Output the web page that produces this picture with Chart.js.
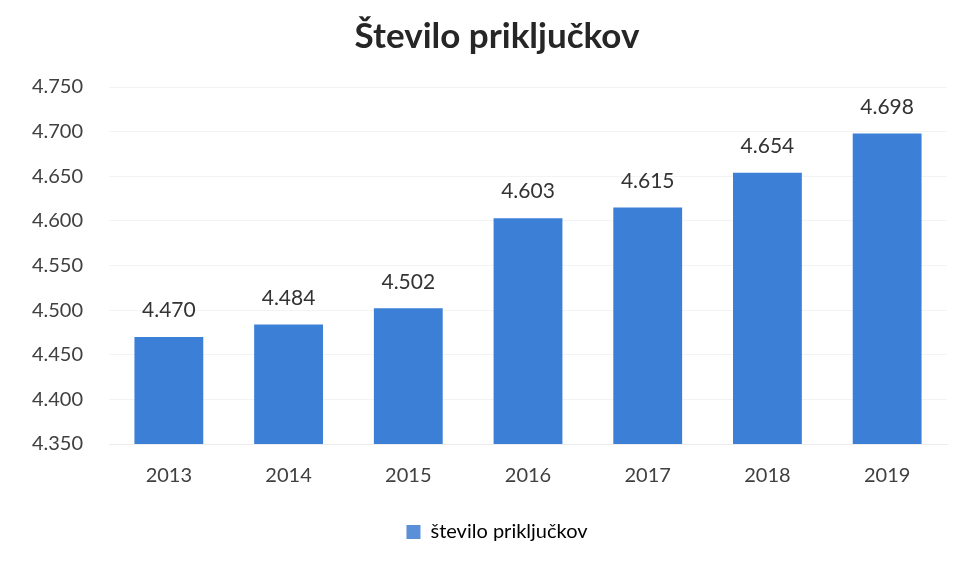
<!DOCTYPE html>
<html>
<head>
<meta charset="utf-8">
<script src="https://cdn.jsdelivr.net/npm/chart.js@4.4.1/dist/chart.umd.min.js"></script>
<style>
    html, body { margin: 0; padding: 0; background: #fff; }
    #wrap { width: 965px; height: 562px; }
</style>
</head>
<body>
<div id="wrap"><canvas id="priklChart"></canvas></div>
<script>
const years = ['2013', '2014', '2015', '2016', '2017', '2018', '2019'];
const prikljucki = [4470, 4484, 4502, 4603, 4615, 4654, 4698];
const yMin = 4350;
const yMax = 4750;
const yStep = 50;

const FONT = 'Lato, "Open Sans", sans-serif';

// 4470 -> "4.470"
function fmt(v) {
    return String(Math.round(v)).replace(/\B(?=(\d{3})+(?!\d))/g, '.');
}

const valueLabels = {
    id: 'valueLabels',
    afterDatasetsDraw(chart) {
        const ctx = chart.ctx;
        const meta = chart.getDatasetMeta(0);
        ctx.save();
        ctx.font = '21px ' + FONT;
        ctx.fillStyle = '#333333';
        ctx.textAlign = 'center';
        ctx.textBaseline = 'bottom';
        meta.data.forEach((bar, i) => {
            ctx.fillText(fmt(chart.data.datasets[0].data[i]), bar.x, bar.y - 16);
        });
        ctx.restore();
    }
};

new Chart('priklChart', {
    type: 'bar',
    data: {
        labels: years,
        datasets: [{
            label: 'število priključkov',
            data: prikljucki,
            backgroundColor: '#3b7fd6',
            borderWidth: 0,
            categoryPercentage: 0.575,
            barPercentage: 1.0
        }]
    },
    plugins: [valueLabels],
    options: {
        responsive: true,
        maintainAspectRatio: false,
        animation: false,
        layout: { padding: { left: 30, right: 1, top: 10, bottom: 10 } },
        plugins: {
            title: {
                display: true,
                text: 'Število priključkov',
                color: '#262626',
                font: { family: FONT, size: 35, weight: 'bold' },
                padding: { top: 6, bottom: 29 }
            },
            legend: {
                position: 'bottom',
                labels: {
                    color: '#404040',
                    font: { family: FONT, size: 20 },
                    boxWidth: 14,
                    boxHeight: 14,
                    padding: 22,
                    generateLabels() {
                        return [{
                            text: 'število priključkov',
                            fillStyle: '#5b8fd8',
                            strokeStyle: '#5b8fd8',
                            lineWidth: 0,
                            datasetIndex: 0
                        }];
                    }
                }
            },
            tooltip: { enabled: false }
        },
        scales: {
            x: {
                grid: { display: false },
                border: { display: true, color: '#ececec' },
                ticks: {
                    color: '#404040',
                    font: { family: FONT, size: 20 },
                    padding: 12
                }
            },
            y: {
                min: yMin,
                max: yMax,
                grid: { color: '#f3f3f3', drawTicks: false },
                border: { display: false },
                ticks: {
                    stepSize: yStep,
                    color: '#404040',
                    font: { family: FONT, size: 20 },
                    padding: 26,
                    callback: v => fmt(v)
                },
                afterFit: s => { s.width = 79; }
            },
            // empty spacer on the right so the plot ends short of the edge
            yRight: {
                position: 'right',
                display: true,
                grid: { display: false },
                border: { display: false },
                ticks: { display: false },
                afterFit: s => { s.width = 17; }
            }
        }
    }
});
</script>
</body>
</html>
